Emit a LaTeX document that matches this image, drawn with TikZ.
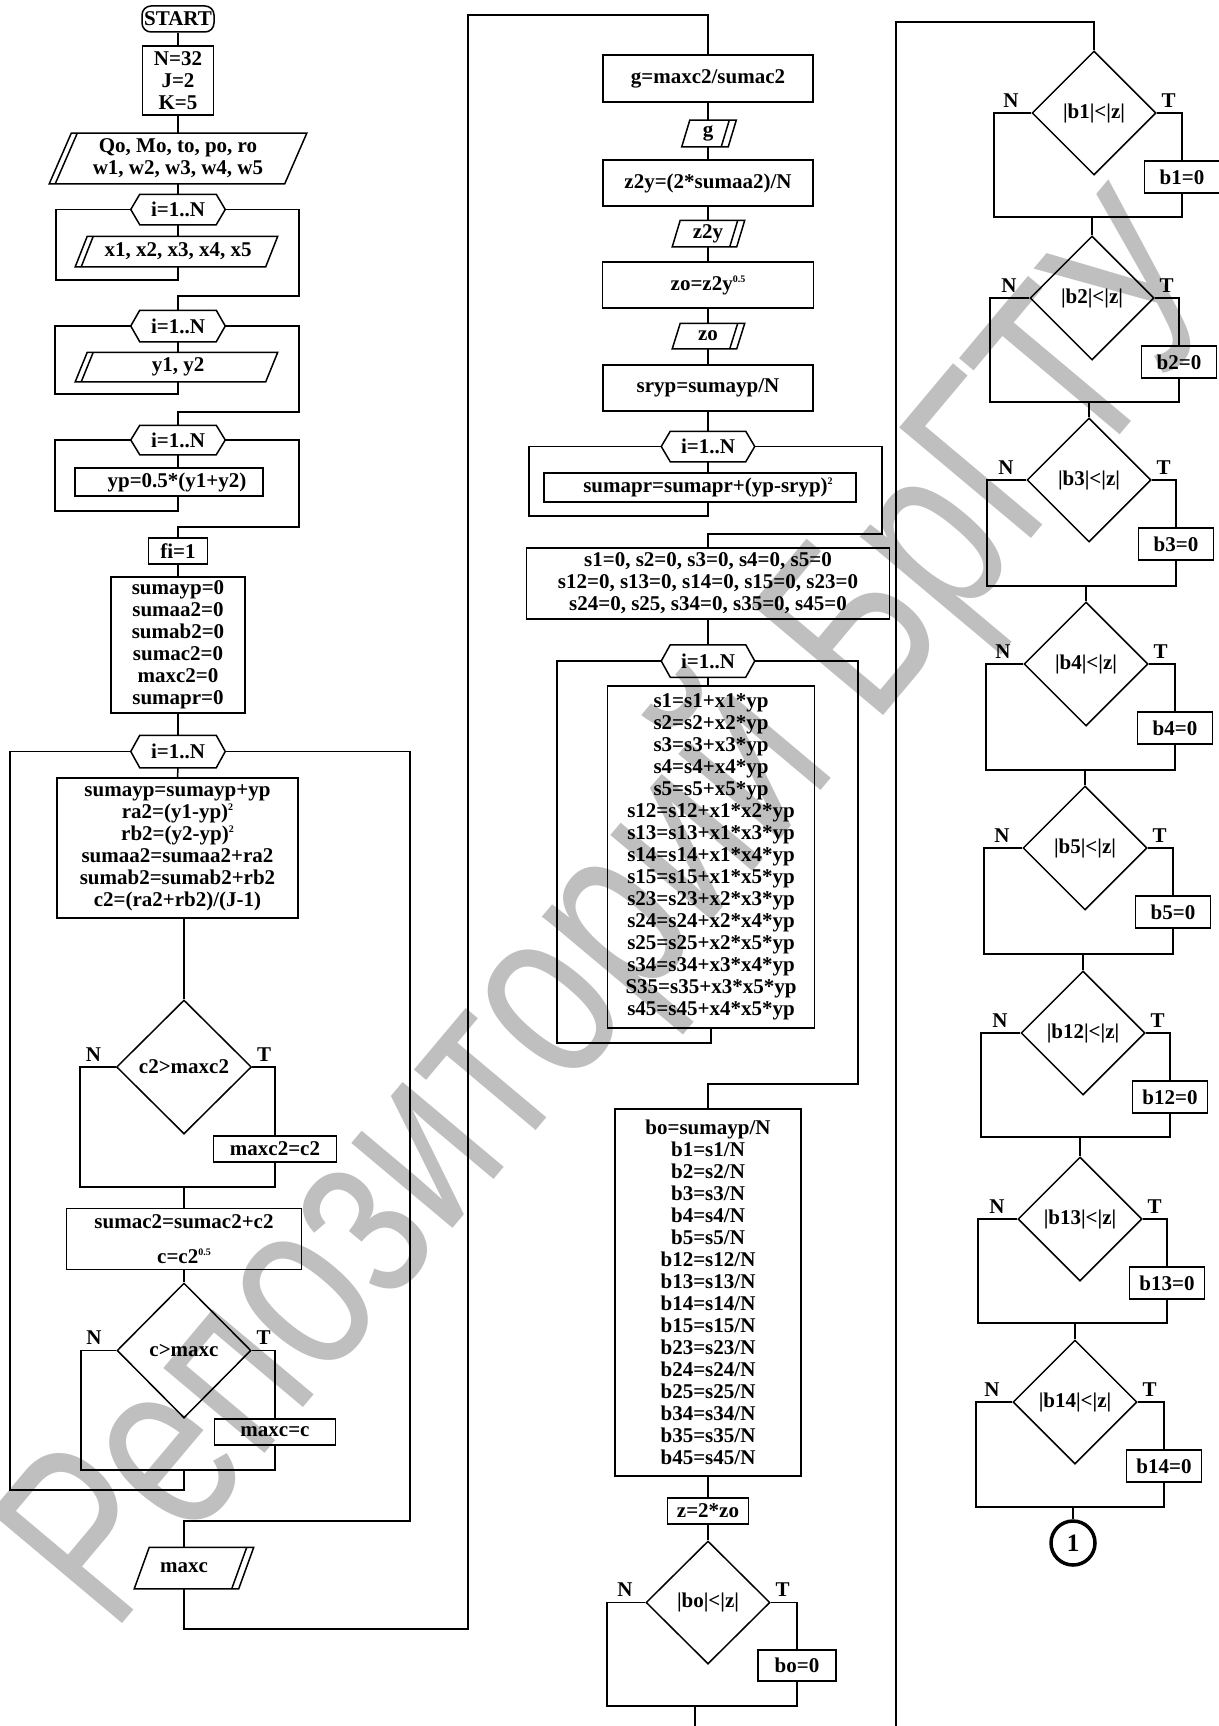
\documentclass[tikz,border=0pt]{standalone}
\usepackage{graphicx}
\usepackage{fontspec}
\setmainfont{Liberation Serif}
\newfontfamily\wmfont{Liberation Sans}
\usetikzlibrary{shapes.geometric,positioning}

\begin{document}
\begin{tikzpicture}[x=1pt,y=-1pt,line width=1.5pt,
  every node/.style={inner sep=0pt,align=center,font=\fontsize{21}{22}\selectfont\bfseries},
  blk/.style 2 args={draw,rectangle,minimum width=#1,minimum height=#2},
  io/.style 2 args={rectangle,minimum width=#1,minimum height=#2},
  cond/.style 2 args={draw,diamond,minimum width=#1,minimum height=#2},
  lbl/.style={font=\fontsize{21}{21}\selectfont\bfseries}]
  \def\pw#1{\raisebox{8pt}{\fontsize{10}{10}\selectfont#1}}
  \fill[white] (0,0) rectangle (1218,1726);
  \useasboundingbox (0,0) rectangle (1218,1726);
  \node[rotate=50,text=black!25,font=\fontsize{250}{250}\wmfont] (wm) at (625,920) {\scalebox{0.76}[1]{Репозиторий БрГТУ}};

  \node[blk={72}{26},rounded corners=9pt] (start) at (178,19) {START};
  \node[blk={71}{69}] (ini) at (178,80.5) {N=32\\J=2\\K=5};
  \node[io={234}{49}] (in1) at (178,158.5) {Qo, Mo, to, po, ro\\w1, w2, w3, w4, w5};
  \node[io={93}{29}] (h1) at (178,209.5) {i=1..N};
  \node[io={189}{29}] (inx) at (178,251.5) {x1, x2, x3, x4, x5};
  \node[io={93}{30}] (h2) at (178,326) {i=1..N};
  \node[io={189}{28}] (iny) at (178,367) {y1, y2};
  \node[io={93}{28}] (h3) at (178,440) {i=1..N};
  \node[blk={188}{28}] (yp) at (169,482) {\hspace*{16pt}yp=0.5*(y1+y2)};
  \node[blk={59}{26}] (fi) at (178,551) {fi=1};
  \node[blk={134}{136}] (zero) at (178,645) {sumayp=0\\sumaa2=0\\sumab2=0\\sumac2=0\\maxc2=0\\sumapr=0};
  \node[io={93}{31}] (h4) at (178,751.5) {i=1..N};
  \node[blk={241}{140}] (acc) at (177.5,848) {sumayp=sumayp+yp\\ra2=(y1-yp)\pw{2}\\rb2=(y2-yp)\pw{2}\\sumaa2=sumaa2+ra2\\sumab2=sumab2+rb2\\c2=(ra2+rb2)/(J-1)};
  \node[cond={135}{134}] (dc2) at (184,1067) {c2>maxc2};
  \node[lbl,above left=5pt and 14pt of dc2.west] (nc2l) {N};
  \node[lbl,above right=5pt and 4pt of dc2.east] (tc2l) {T};
  \node[blk={123}{26}] (mc2) at (275,1149) {maxc2=c2};
  \node[blk={235}{61}] (sc2) at (184,1239) {sumac2=sumac2+c2\\[13pt]c=c2\pw{0.5}};
  \node[cond={134}{135}] (dcm) at (184,1350.5) {c>maxc};
  \node[lbl,above left=5pt and 14pt of dcm.west] (ncml) {N};
  \node[lbl,above right=5pt and 4pt of dcm.east] (tcml) {T};
  \node[blk={121}{26}] (mc) at (275,1432) {maxc=c};
  \node[io={103}{40}] (outm) at (184,1568) {maxc};

  \coordinate (r1) at (56,280);
  \coordinate (e1) at (299,296);
  \coordinate (r2) at (55,394);
  \coordinate (e2) at (299,412);
  \coordinate (r3) at (55,511);
  \coordinate (e3) at (299,527);
  \coordinate (nc2) at (80,1187);
  \coordinate (ncm) at (81,1470);
  \coordinate (r4) at (10,1490);
  \coordinate (e4) at (410,1521);
  \coordinate (k1) at (468,1629);
  \coordinate (k2) at (468,15);

  \draw (start.south) -- (ini.north);
  \draw (ini.south) -- (in1.north);
  \draw (in1.south) -- (h1.north);
  \draw (h1.south) -- (inx.north);
  \draw (inx.south) |- (r1) |- (h1.west);
  \draw (h1.east) -| (e1) -| (h2.north);
  \draw (h2.south) -- (iny.north);
  \draw (iny.south) |- (r2) |- (h2.west);
  \draw (h2.east) -| (e2) -| (h3.north);
  \draw (h3.south) -- (h3.south |- yp.north);
  \draw (h3.south |- yp.south) |- (r3) |- (h3.west);
  \draw (h3.east) -| (e3) -| (fi.north);
  \draw (fi.south) -- (zero.north);
  \draw (zero.south) -- (h4.north);
  \draw (h4.south) -- (acc.north);
  \draw (dc2.north) -- (dc2.north |- acc.south);
  \draw (dc2.west) -| (nc2) -- (nc2 -| mc2.south) -- (mc2.south);
  \draw (dc2.east) -| (mc2.north);
  \draw (nc2 -| dc2.south) -- (sc2.north);
  \draw (sc2.south) -- (dcm.north);
  \draw (dcm.west) -| (ncm) -- (ncm -| mc.south) -- (mc.south);
  \draw (dcm.east) -| (mc.north);
  \draw (ncm -| dcm.south) |- (r4) |- (h4.west);
  \draw (h4.east) -| (e4) -| (outm.north);

  \node[blk={210}{47}] (gbox) at (708,78.5) {g=maxc2/sumac2};
  \node[io={45}{25}] (og) at (708,133.5) {g};
  \node[blk={210}{46}] (z2y) at (708,183) {z2y=(2*sumaa2)/N};
  \node[io={63}{25}] (oz2y) at (708,233.5) {z2y};
  \node[blk={211}{46}] (zo) at (708,285) {zo=z2y\pw{0.5}};
  \node[io={63}{24}] (ozo) at (708,336) {zo};
  \node[blk={210}{46}] (sryp) at (708,388) {sryp=sumayp/N};
  \node[io={92}{29}] (h5) at (708,446.5) {i=1..N};
  \node[blk={312}{29}] (spr) at (700,487.5) {\hspace*{16pt}sumapr=sumapr+(yp-sryp)\pw{2}};
  \node[blk={363}{71}] (sini) at (708,583.5) {s1=0, s2=0, s3=0, s4=0, s5=0\\s12=0, s13=0, s14=0, s15=0, s23=0\\s24=0, s25, s34=0, s35=0, s45=0};
  \node[io={92}{31}] (h6) at (708,661) {i=1..N};
  \node[blk={207}{342}] (sacc) at (711,857) {s1=s1+x1*yp\\s2=s2+x2*yp\\s3=s3+x3*yp\\s4=s4+x4*yp\\s5=s5+x5*yp\\s12=s12+x1*x2*yp\\s13=s13+x1*x3*yp\\s14=s14+x1*x4*yp\\s15=s15+x1*x5*yp\\s23=s23+x2*x3*yp\\s24=s24+x2*x4*yp\\s25=s25+x2*x5*yp\\s34=s34+x3*x4*yp\\S35=s35+x3*x5*yp\\s45=s45+x4*x5*yp};
  \node[blk={186}{367}] (bdiv) at (708,1292.5) {bo=sumayp/N\\b1=s1/N\\b2=s2/N\\b3=s3/N\\b4=s4/N\\b5=s5/N\\b12=s12/N\\b13=s13/N\\b14=s14/N\\b15=s15/N\\b23=s23/N\\b24=s24/N\\b25=s25/N\\b34=s34/N\\b35=s35/N\\b45=s45/N};
  \node[blk={81}{26}] (zz) at (708,1511) {z=2*zo};
  \node[cond={124}{123}] (dbo) at (708,1602.5) {|bo|<|z|};
  \node[lbl,above left=5pt and 12pt of dbo.west] (nbol) {N};
  \node[lbl,above right=5pt and 4pt of dbo.east] (tbol) {T};
  \node[blk={78}{31}] (bo0) at (797,1665.5) {bo=0};

  \coordinate (r5) at (529,516);
  \coordinate (e5) at (882,534);
  \coordinate (r6) at (557,1043);
  \coordinate (e6) at (858,1084);
  \coordinate (nbo) at (607,1706);
  \coordinate (f2) at (695,1726);

  \draw (outm.south) |- (k1) -- (k2) -| (gbox.north);
  \draw (gbox.south) -- (og.north);
  \draw (og.south) -- (z2y.north);
  \draw (z2y.south) -- (oz2y.north);
  \draw (oz2y.south) -- (zo.north);
  \draw (zo.south) -- (ozo.north);
  \draw (ozo.south) -- (sryp.north);
  \draw (sryp.south) -- (h5.north);
  \draw (h5.south) -- (h5.south |- spr.north);
  \draw (h5.south |- spr.south) |- (r5) |- (h5.west);
  \draw (h5.east) -| (e5) -| (sini.north);
  \draw (sini.south) -- (h6.north);
  \draw (h6.south) -- (h6.south |- sacc.north);
  \draw (sacc.south) |- (r6) |- (h6.west);
  \draw (h6.east) -| (e6) -| (bdiv.north);
  \draw (bdiv.south) -- (zz.north);
  \draw (zz.south) -- (dbo.north);
  \draw (dbo.west) -| (nbo) -- (nbo -| bo0.south) -- (bo0.south);
  \draw (dbo.east) -| (bo0.north);
  \draw (nbo -| f2) -- (f2);

  \foreach \p/\a/\b in {in1/11/-11,inx/4.5/-7.5,iny/4.5/-7.5,outm/17.5/2.5,og/5/-3,oz2y/4.5/-3.5,ozo/4.5/-3.5} {
    \draw ([xshift=\a]\p.north west) -- ([xshift=\a]\p.north east) -- ([xshift=\b]\p.south east) -- ([xshift=\b]\p.south west) -- cycle;
  }
  \foreach \p/\a/\b in {in1/11/-11,inx/4.5/-7.5,iny/4.5/-7.5} {
    \draw ([xshift=\a+6]\p.north west) -- ([xshift=\b+6]\p.south west);
  }
  \foreach \p/\a/\b in {outm/17.5/2.5,og/5/-3,oz2y/4.5/-3.5,ozo/4.5/-3.5} {
    \draw ([xshift=\a-7]\p.north east) -- ([xshift=\b-7]\p.south east);
  }
  \foreach \h in {h1,h2,h3,h4,h5,h6} {
    \draw ([xshift=9]\h.north west) -- ([xshift=-9]\h.north east) -- (\h.east) -- ([xshift=-9]\h.south east) -- ([xshift=9]\h.south west) -- (\h.west) -- cycle;
  }

  \coordinate (f3) at (896,1726);
  \coordinate (f3t) at (896,22);
  \foreach \i/\t/\x/\y/\xn/\xt/\yb in {1/1/1094/113/994/1182/217,2/2/1092/298/990/1179/402,3/3/1089/480/987/1176/586,4/4/1086/664/986/1175/770,5/5/1085/848/984/1173/954,6/12/1083/1033/981/1170/1137,7/13/1080/1219/978/1167/1323,8/14/1075/1402/976/1164/1507} {
    \node[cond={124}{124}] (d\i) at (\x,\y) {|b\t|<|z|};
    \node[lbl,above left=5pt and 12pt of d\i.west] (nl\i) {N};
    \node[lbl,above right=5pt and 4pt of d\i.east] (tl\i) {T};
    \node[blk={75}{32}] (zb\i) at (\xt,\y+64) {b\t=0};
    \coordinate (jb\i) at (\xn,\yb);
    \draw (d\i.west) -| (jb\i) -- (jb\i -| zb\i.south) -- (zb\i.south);
    \draw (d\i.east) -| (zb\i.north);
  }
  \foreach \i [count=\k from 2] in {1,...,7} {
    \draw (d\k.north |- jb\i) -- (d\k.north);
  }
  \node[circle,draw,line width=3.5pt,minimum size=44,font=\fontsize{25}{25}\selectfont\bfseries] (c1) at (1073,1543) {1};
  \draw (c1.north |- jb8) -- (c1.north);
  \draw (f3) -- (f3t) -| (d1.north);
\end{tikzpicture}
\end{document}
